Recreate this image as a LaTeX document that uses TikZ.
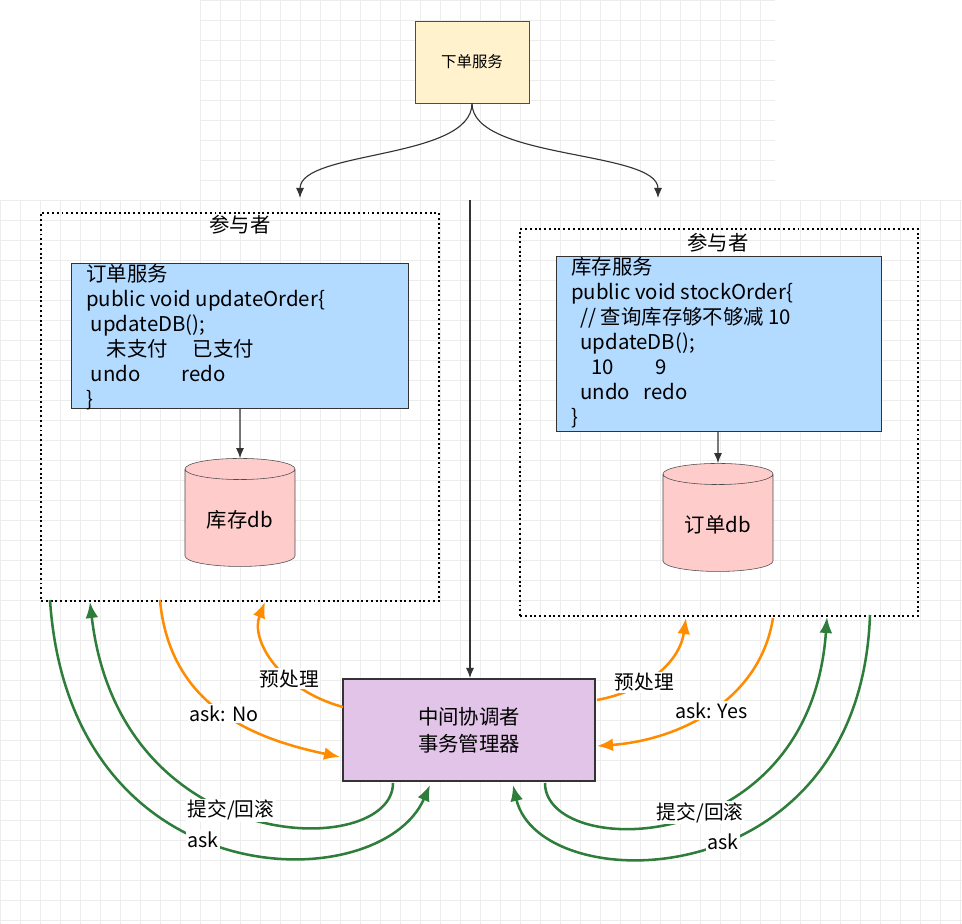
\documentclass[tikz,border=0pt]{standalone}
\usepackage{fontspec}
\setmainfont{Noto Sans CJK SC}
\usetikzlibrary{positioning,shapes.geometric,arrows.meta}
\definecolor{gridc}{HTML}{EDEDED}
\definecolor{svcyel}{HTML}{FFF2CC}
\definecolor{svcblue}{HTML}{B3DAFF}
\definecolor{dbpink}{HTML}{FFCCCC}
\definecolor{tmpurple}{HTML}{E1C4E8}
\definecolor{arrorange}{HTML}{FF8C00}
\definecolor{arrgreen}{HTML}{2E7D3A}
\tikzset{
  part/.style={ draw, dotted, line width=1.4pt, anchor=north west },
  code/.style={ draw=black!80, fill=svcblue, anchor=north west, line width=0.8pt },
  codetxt/.style={ anchor=north west, align=left, inner sep=0pt, font=\fontsize{14.5}{17.8}\selectfont },
  db/.style={ draw=black!70, fill=dbpink, cylinder, shape border rotate=90, aspect=0.28, minimum width=2.75cm, minimum height=2.7cm, font=\fontsize{14.5}{16}\selectfont },
  lbl/.style={ fill=white, inner sep=1pt, font=\fontsize{14}{16}\selectfont },
  orng/.style={ draw=arrorange, line width=1.8pt, -{Latex[length=4mm,width=3.2mm]} },
  grn/.style={ draw=arrgreen, line width=1.8pt, -{Latex[length=4mm,width=3.2mm]} },
  blk/.style={ draw=black!80, line width=0.8pt, -{Latex[length=2.5mm,width=2mm]} }
}
\begin{document}
\begin{tikzpicture}[x=0.025cm,y=-0.025cm]
  \useasboundingbox (0,0) rectangle (962,924);
  % background grid
  \draw[gridc, step=0.5cm] (0,200) grid (962,924);
  \draw[gridc, step=0.5cm] (200,0) grid (775,200);

  \node[draw=black!70, fill=svcyel, minimum width=2.85cm, minimum height=2.05cm, font=\fontsize{11}{13}\selectfont] (order) at (472,62) {下单服务};

  % participants
  \node[part, minimum width=9.95cm, minimum height=9.7cm] (p1) at (40,212) {};
  \node[font=\fontsize{14.5}{16}\selectfont] (p1l) at (240,225) {参与者};
  \node[part, minimum width=9.95cm, minimum height=9.67cm] (p2) at (519,228) {};
  \node[font=\fontsize{14.5}{16}\selectfont] (p2l) at (718,243) {参与者};

  \node[code, minimum width=8.42cm, minimum height=3.62cm] (c1) at (71,263) {};
  \node[codetxt] (c1t) at (86,264) {
    订单服务\\
    public void updateOrder\{\\
    \ updateDB();\\
    \quad 未支付\quad\ 已支付\\
    \ undo\qquad redo\\
    \}};
  \node[code, minimum width=8.12cm, minimum height=4.37cm] (c2) at (556,256) {};
  \node[codetxt] (c2t) at (571,257) {
    库存服务\\
    public void stockOrder\{\\
    \ \ // 查询库存够不够减 10\\
    \ \ updateDB();\\
    \quad 10\qquad 9\\
    \ \ undo\ \ \ redo\\
    \}};

  \node[db] (db1) at (240,520) {库存db};
  \node[db] (db2) at (718,525) {订单db};
  \draw[blk] (c1.south -| db1) -- (db1.north);
  \draw[blk] (c2.south -| db2) -- (db2.north);

  \node[draw=black!80, line width=1.4pt, fill=tmpurple, minimum width=6.3cm, minimum height=2.55cm, align=center, font=\fontsize{14.5}{19}\selectfont] (tm) at (469,730) {中间协调者\\事务管理器};

  \coordinate (t1) at (300,198);
  \coordinate (t2) at (658,198);
  \coordinate (vtop) at (470,200);
  \draw[blk] (order.south) .. controls (472,160) and (300,150) .. (t1);
  \draw[blk] (order.south) .. controls (472,160) and (658,150) .. (t2);
  \draw[blk] (vtop) -- (vtop |- tm.north);

  % left side
  \draw[orng] (160,600) .. controls (170,710) and (260,740) .. (340,757) node[lbl, pos=0.5] {ask: No};
  \draw[orng] (343,707) .. controls (280,690) and (250,640) .. (265,602) node[lbl, pos=0.35] {预处理};
  \draw[grn] (393,783) .. controls (393,860) and (120,860) .. (90,602) node[lbl, pos=0.55] {提交/回滚};
  \draw[grn] (50,600) .. controls (70,900) and (380,900) .. (430,785) node[lbl, pos=0.45] {ask};

  % right side
  \draw[orng] (597,700) .. controls (650,690) and (680,660) .. (686,618) node[lbl, pos=0.35] {预处理};
  \draw[orng] (773,618) .. controls (760,700) and (680,740) .. (597,746) node[lbl, pos=0.5] {ask: Yes};
  \draw[grn] (545,783) .. controls (545,860) and (810,860) .. (827,617) node[lbl, pos=0.55] {提交/回滚};
  \draw[grn] (870,615) .. controls (860,900) and (540,900) .. (513,785) node[lbl, pos=0.45] {ask};
\end{tikzpicture}
\end{document}
